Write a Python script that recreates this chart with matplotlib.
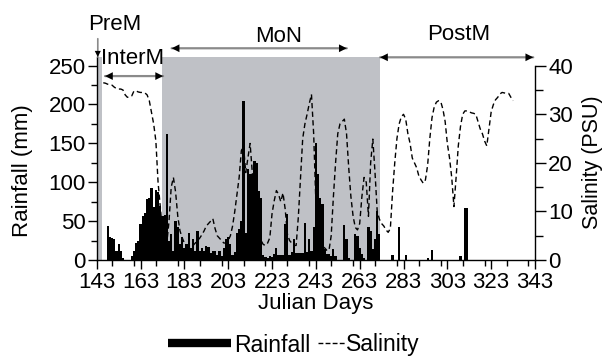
import numpy as np
import matplotlib
matplotlib.use("Agg")
import matplotlib.pyplot as plt
from matplotlib.lines import Line2D
from matplotlib.ticker import MultipleLocator

plt.rcParams['font.family'] = ['Liberation Sans', 'DejaVu Sans']

# ---------------- data ----------------
rain_start = 143
rainfall = [2, 0, 0, 0, 0, 44, 30, 28, 27, 12,          # 143-152
            20, 12, 3, 0, 0, 0, 5, 12, 22, 24,          # 153-162
            46, 57, 60, 78, 80, 92, 68, 90, 88, 70,     # 163-172
            57, 58, 162, 24, 33, 12, 50, 42, 20, 29,    # 173-182
            16, 20, 35, 16, 27, 12, 37, 12, 16, 12,     # 183-192
            18, 17, 9, 12, 12, 7, 12, 5, 16, 27,        # 193-202
            29, 20, 7, 10, 35, 40, 50, 205, 35, 117,    # 203-212
            110, 110, 127, 125, 89, 80, 7, 4, 3, 5,     # 213-222
            4, 8, 16, 7, 7, 7, 46, 59, 7, 10,           # 223-232
            27, 9, 9, 9, 9, 48, 10, 27, 12, 42,         # 233-242
            150, 110, 80, 72, 14, 8, 8, 5, 14, 5,       # 243-252
            0, 0, 0, 45, 27, 3, 0, 0, 33, 31,           # 253-262
            16, 8, 3, 0, 42, 37, 14, 27, 63, 33,        # 263-272
            0, 0, 0, 0, 0, 6, 0, 0, 42, 0,              # 273-282
            0, 6, 0, 0, 0, 0, 0, 0, 0, 0,               # 283-292
            0, 3, 0, 13, 0, 0, 0, 0, 0, 0,              # 293-302
            0, 0, 0, 0, 0, 0, 5, 0, 67, 67,             # 303-312
            0]                                          # 313

sal_start = 146
salinity = [36.5, 36.4, 36.2, 36.1, 36.0, 35.6, 35.3, 35.2, 35.2, 35.0,   # 146-155
            34.0, 33.5, 33.6, 33.8, 34.8, 34.8, 34.6, 34.5, 34.5, 34.4,   # 156-165
            34.0, 32.8, 30.4, 28.0, 24.5, 16.0, 11.0, 6.0, 3.0, 3.5,      # 166-175
            8.0, 15.0, 17.0, 14.0, 9.0, 6.0, 4.6, 3.5, 3.0, 2.6,          # 176-185
            2.5, 3.0, 3.5, 4.0, 4.5, 5.2, 6.0, 7.0, 7.5, 8.0,             # 186-195
            8.5, 6.5, 5.0, 4.5, 4.0, 3.5, 3.5, 4.0, 5.0, 7.0,             # 196-205
            10.0, 13.5, 17.0, 22.5, 23.5, 18.0, 21.0, 24.0, 18.0, 13.0,   # 206-215
            9.0, 6.0, 4.0, 3.2, 3.0, 3.5, 4.6, 9.5, 12.2, 14.3,           # 216-225
            13.5, 12.0, 13.8, 10.5, 5.4, 4.0, 3.5, 3.0, 3.0, 8.8,         # 226-235
            17.0, 25.0, 28.0, 30.0, 32.2, 34.1, 26.0, 12.0, 4.0, 3.0,     # 236-245
            2.8, 2.5, 2.0, 2.0, 5.0, 13.0, 20.0, 26.0, 28.0, 28.5,        # 246-255
            29.0, 26.0, 19.0, 13.0, 9.0, 6.7, 6.2, 7.5, 13.0, 17.0,       # 256-265
            16.0, 9.0, 20.0, 24.9, 18.0, 10.0, 8.4, 7.5, 7.0, 6.2,        # 266-275
            5.7, 6.5, 14.0, 20.0, 25.0, 28.0, 29.5, 30.0, 29.0, 26.0,     # 276-285
            24.0, 21.0, 20.0, 19.0, 17.3, 16.5, 15.8, 16.5, 19.5, 25.0,   # 286-295
            29.3, 31.5, 32.5, 32.8, 32.6, 31.0, 28.5, 24.0, 21.0, 17.0,   # 296-305
            11.0, 17.0, 23.5, 27.5, 30.0, 30.7, 30.7, 30.5, 30.3, 30.2,   # 306-315
            30.0, 28.5, 27.0, 26.0, 24.5, 23.5, 27.0, 30.5, 32.0, 33.0,   # 316-325
            33.5, 34.2, 34.5, 34.4, 34.3, 34.3, 33.5, 32.8]               # 326-333

# season boundaries (Julian day)
prem = (143, 145.3)
interm = (145.3, 172.7)
mon = (172.7, 272.5)
postm = (272.5, 343)

x_ticks = list(range(143, 344, 20))
rain_ticks = [0, 50, 100, 150, 200, 250]
sal_ticks = [0, 10, 20, 30, 40]

rain_days = np.arange(rain_start, rain_start + len(rainfall))
sal_days = np.arange(sal_start, sal_start + len(salinity))

# ---------------- figure ----------------
W, H = 607, 358
fig = plt.figure(figsize=(W / 100, H / 100), dpi=100)
L, R, T, B = 96.7, 535.0, 57.0, 260.0
ax = fig.add_axes([L / W, 1 - B / H, (R - L) / W, (B - T) / H])

gray = '#bfc1c6'
ax.axvspan(prem[0], prem[1], color=gray, lw=0, zorder=0)
ax.axvspan(mon[0], mon[1], color=gray, lw=0, zorder=0)
ax.bar(rain_days, rainfall, width=1.0, color='black', linewidth=0, zorder=2)

ax.set_xlim(143, 343)
ax.set_ylim(0, 261)
ax.set_xticks(x_ticks)
ax.xaxis.set_minor_locator(MultipleLocator(10))
ax.set_yticks(rain_ticks)
ax.yaxis.set_minor_locator(MultipleLocator(25))

ax2 = ax.twinx()
ax2.plot(sal_days, salinity, color='black', lw=1.0, ls=(0, (3.8, 2.4)))
ax2.set_ylim(0, 41.8)
ax2.set_yticks(sal_ticks)
ax2.yaxis.set_minor_locator(MultipleLocator(5))

for a in (ax, ax2):
    a.spines['top'].set_visible(False)
    for s in a.spines.values():
        s.set_linewidth(1.0)
ax.spines['right'].set_visible(False)
ax2.spines['left'].set_visible(False)
ax2.spines['bottom'].set_visible(False)
ax2.spines['right'].set_bounds(0, 40)

fs = 16
ax.tick_params(axis='both', which='major', direction='out', length=6.5, width=1,
               labelsize=fs, pad=1.5)
ax.tick_params(axis='both', which='minor', direction='out', length=4, width=1)
ax.tick_params(axis='x', which='major', pad=1.8)
ax2.tick_params(axis='y', which='major', direction='out', length=8, width=1,
                labelsize=fs, pad=1.5)
ax2.tick_params(axis='y', which='minor', direction='out', length=5.5, width=1)

ax.set_xlabel('Julian Days', fontsize=fs, labelpad=0)
ax.set_ylabel('Rainfall (mm)', fontsize=16)
ax.yaxis.set_label_coords(-0.146, 0.44)
ax2.set_ylabel('Salinity (PSU)', fontsize=15.5)
ax2.yaxis.set_label_coords(1.107, 0.48)

# ---------------- season annotations ----------------
ac = ('data', 'axes fraction')
lc = '#8a8a8a'


def span_arrow(x0, x1, y):
    ax.annotate('', xy=(x1, y), xytext=(x0, y), xycoords=ac, textcoords=ac,
                arrowprops=dict(arrowstyle='-', color=lc, lw=1.6,
                                shrinkA=0, shrinkB=0), annotation_clip=False)
    for xe, xi in ((x0, x0 + 4), (x1, x1 - 4)):
        ax.annotate('', xy=(xe, y), xytext=(xi, y), xycoords=ac, textcoords=ac,
                    arrowprops=dict(arrowstyle='-|>', color='black', lw=0,
                                    mutation_scale=14, shrinkA=0, shrinkB=0),
                    annotation_clip=False)


afs = 16
ax.text(151.4, 1.158, 'PreM', transform=ax.get_xaxis_transform(),
        ha='center', va='center', fontsize=afs, clip_on=False)
ax.annotate('', xy=(143.5, 1.0), xytext=(143.5, 1.09), xycoords=ac,
            textcoords=ac,
            arrowprops=dict(arrowstyle='-', color=lc, lw=1.2, shrinkA=0, shrinkB=0),
            annotation_clip=False)
ax.annotate('', xy=(143.5, 1.0), xytext=(143.5, 1.04), xycoords=ac,
            textcoords=ac,
            arrowprops=dict(arrowstyle='-|>', color='black', lw=0,
                            mutation_scale=11, shrinkA=0, shrinkB=0),
            annotation_clip=False)

ax.text(159.3, 0.995, 'InterM', transform=ax.get_xaxis_transform(),
        ha='center', va='center', fontsize=afs, clip_on=False, zorder=5)
span_arrow(146.8, 173.3, 0.906)

ax.text(226.2, 1.100, 'MoN', transform=ax.get_xaxis_transform(),
        ha='center', va='center', fontsize=afs, clip_on=False)
span_arrow(177.2, 257.1, 1.043)

ax.text(308.3, 1.110, 'PostM', transform=ax.get_xaxis_transform(),
        ha='center', va='center', fontsize=afs, clip_on=False)
span_arrow(272.3, 342.2, 0.9985)

# ---------------- legend ----------------
lfs = 16.5
fsp = lfs * 100 / 72
h1 = Line2D([], [], color='black', lw=6, solid_capstyle='butt')
h2 = Line2D([], [], color='black', lw=1.0, ls=(0, (3.5, 1.6)))
leg1 = fig.legend([h1], ['Rainfall'], loc='center left',
                  bbox_to_anchor=(168 / W, 1 - 345 / H), frameon=False,
                  fontsize=lfs, handlelength=63 / fsp, handletextpad=0.12,
                  borderpad=0, borderaxespad=0)
leg2 = fig.legend([h2], ['Salinity'], loc='center left',
                  bbox_to_anchor=(318 / W, 1 - 345 / H), frameon=False,
                  fontsize=lfs, handlelength=27 / fsp, handletextpad=0.05,
                  borderpad=0, borderaxespad=0)

fig.savefig('out.png', dpi=100)
